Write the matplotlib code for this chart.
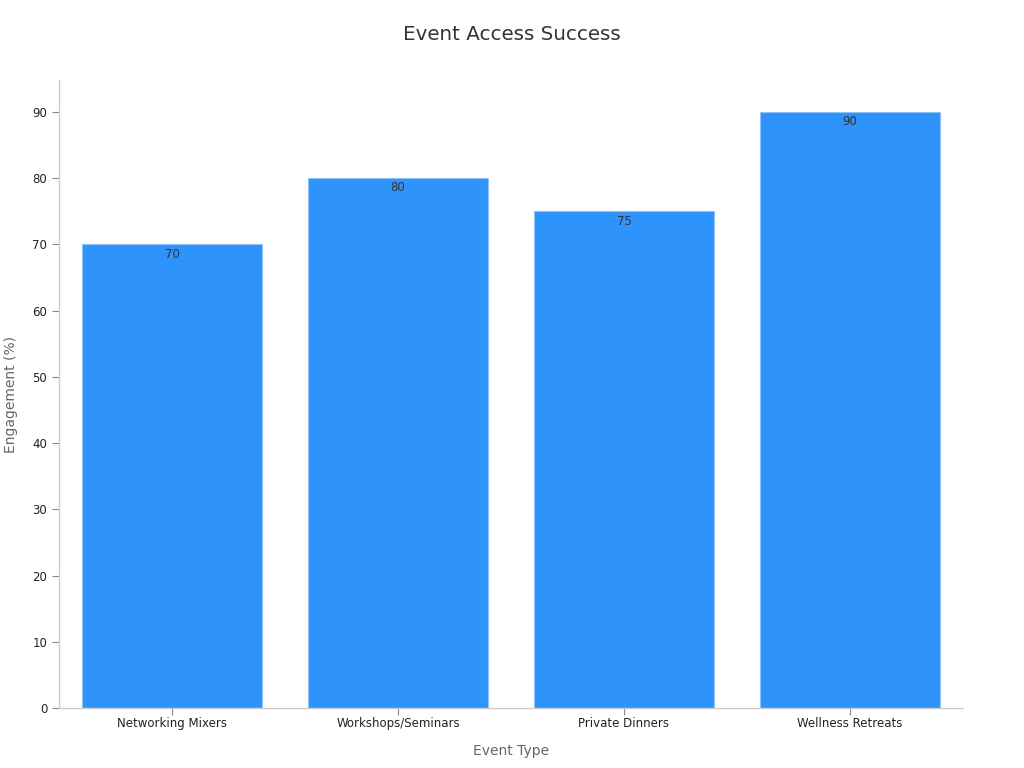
import matplotlib
matplotlib.use("Agg")
import matplotlib.pyplot as plt

plt.rcParams["font.family"] = ["DejaVu Sans"]

categories = ["Networking Mixers", "Workshops/Seminars", "Private Dinners", "Wellness Retreats"]
engagement = [70, 80, 75, 90]

fig = plt.figure(figsize=(10.24, 7.68), dpi=100)
ax = fig.add_axes([0.0576, 0.0781, 0.8828, 0.8177])

x = range(len(categories))
bars = ax.bar(x, engagement, width=0.8, color="#2E93FA", edgecolor="#8FC3F7", linewidth=0.8)

# value labels just inside the top of each bar
for b, v in zip(bars, engagement):
    ax.text(b.get_x() + b.get_width() / 2, v - 0.5, f"{v}", ha="center", va="top",
            fontsize=8.5, color="#333333")

ax.set_xlim(-0.5, 3.5)
ax.set_ylim(0, 94.8)
ax.set_yticks(range(0, 91, 10))
ax.set_xticks(list(x))
ax.set_xticklabels(categories)

for s in ["top", "right"]:
    ax.spines[s].set_visible(False)
for s in ["left", "bottom"]:
    ax.spines[s].set_color("#cccccc")
    ax.spines[s].set_linewidth(1)

ax.tick_params(axis="both", colors="#888888", labelcolor="#222222", labelsize=8.5, length=5)
ax.tick_params(axis="x", pad=1.5)

ax.set_xlabel("Event Type", fontsize=10, color="#666666", labelpad=10)
ax.set_ylabel("Engagement (%)", fontsize=10, color="#666666", labelpad=10)
fig.suptitle("Event Access Success", fontsize=14.3, color="#333333", y=0.968)

fig.savefig("out.png", dpi=100, facecolor="white")
